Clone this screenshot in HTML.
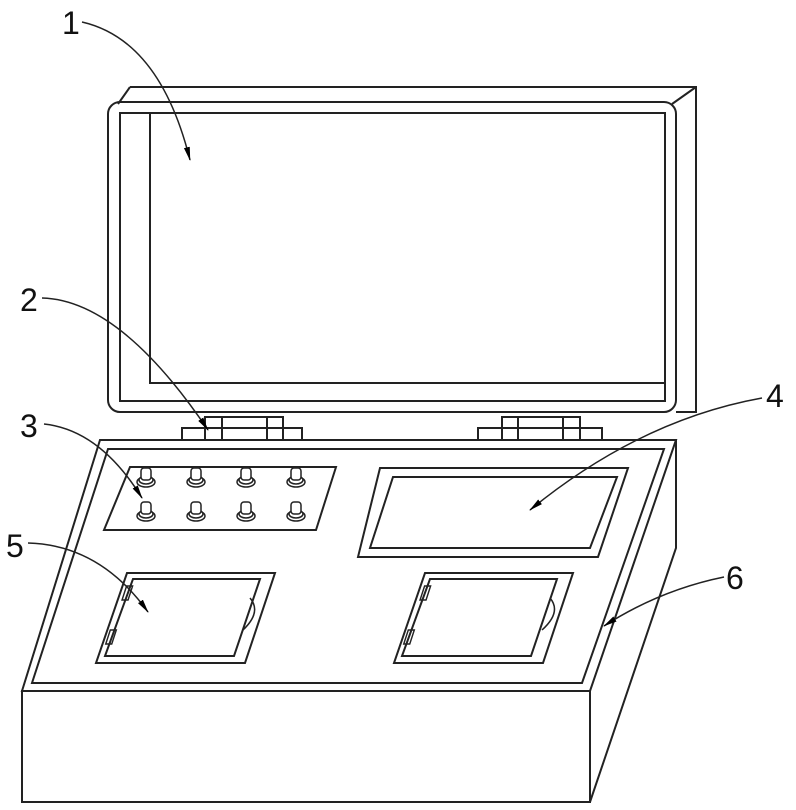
<!DOCTYPE html>
<html><head><meta charset="utf-8"><style>body{margin:0;background:#fff}svg{display:block}</style></head><body>
<svg width="796" height="810" viewBox="0 0 796 810" xmlns="http://www.w3.org/2000/svg">
<defs><marker id="a" markerWidth="14" markerHeight="8" refX="13" refY="4" orient="auto" markerUnits="userSpaceOnUse"><path d="M0,1 L14,4 L0,7 Z" fill="#000"/></marker>
<g id="b" fill="#fff" stroke="#222" stroke-width="1.5"><ellipse cx="0" cy="8" rx="9" ry="5"/><ellipse cx="0" cy="6" rx="7" ry="4"/><rect x="-5" y="-6" width="10" height="12" rx="3"/></g></defs>
<g fill="none" stroke="#222" stroke-width="2">
<!-- lid -->
<path d="M130,87 L696,87 L696,412 L676,412"/>
<rect x="108" y="102" width="568" height="310" rx="12"/>
<rect x="120" y="113" width="545" height="288"/>
<path d="M150,113 L150,383 L665,383"/>
<path d="M118,104 L130,87 M672,104 L696,87"/>
<!-- hinges -->
<rect x="182" y="428" width="120" height="12"/><rect x="205" y="417" width="78" height="23"/><rect x="205" y="417" width="17" height="23"/><rect x="267" y="417" width="16" height="23"/>
<rect x="478" y="428" width="124" height="12"/><rect x="502" y="417" width="78" height="23"/><rect x="502" y="417" width="16" height="23"/><rect x="563" y="417" width="17" height="23"/>
<!-- base -->
<path d="M100,440 L676,440 L590,691 L22,691 Z"/>
<path d="M108,449 L664,449 L582,683 L32,683 Z"/>
<rect x="22" y="691" width="568" height="111"/>
<path d="M676,440 L676,548 L590,802"/>
<!-- buttons panel -->
<path d="M130,467 L336,467 L316,530 L104,530 Z"/>
<!-- screen -->
<path d="M380,468 L628,468 L598,557 L358,557 Z"/>
<path d="M393,477 L617,477 L590,548 L370,548 Z"/>
<!-- doors -->
<path d="M127,573 L275,573 L245,663 L96,663 Z"/><path d="M133,579 L260,579 L234,656 L105,656 Z"/>
<path d="M425,573 L573,573 L543,663 L394,663 Z"/><path d="M430,579 L557,579 L531,656 L402,656 Z"/>
<path d="M250,598 Q262,612 243,630 M550,598 Q562,612 542,630" stroke-width="1.5"/>
<rect x="124" y="586" width="6" height="14" transform="skewX(-18) translate(193,0)" stroke-width="1.5"/>
<rect x="110" y="630" width="6" height="14" transform="skewX(-18) translate(205,0)" stroke-width="1.5"/>
<rect x="422" y="586" width="6" height="14" transform="skewX(-18) translate(193,0)" stroke-width="1.5"/>
<rect x="408" y="630" width="6" height="14" transform="skewX(-18) translate(205,0)" stroke-width="1.5"/>
</g>
<use href="#b" x="146" y="474"/><use href="#b" x="196" y="474"/><use href="#b" x="246" y="474"/><use href="#b" x="296" y="474"/>
<use href="#b" x="146" y="508"/><use href="#b" x="196" y="508"/><use href="#b" x="246" y="508"/><use href="#b" x="296" y="508"/>
<g fill="none" stroke="#222" stroke-width="1.5" marker-end="url(#a)">
<path d="M82,22 Q160,40 190,160"/>
<path d="M42,298 Q120,300 208,430"/>
<path d="M44,424 Q100,430 142,498"/>
<path d="M762,398 Q640,420 530,510"/>
<path d="M28,543 Q100,545 148,612"/>
<path d="M724,577 Q660,590 604,626"/>
</g>
<g font-family="Liberation Sans, sans-serif" font-size="32" fill="#111">
<text x="62" y="34">1</text><text x="20" y="311">2</text><text x="20" y="437">3</text>
<text x="766" y="407">4</text><text x="6" y="557">5</text><text x="726" y="589">6</text>
</g>
</svg>
</body></html>
